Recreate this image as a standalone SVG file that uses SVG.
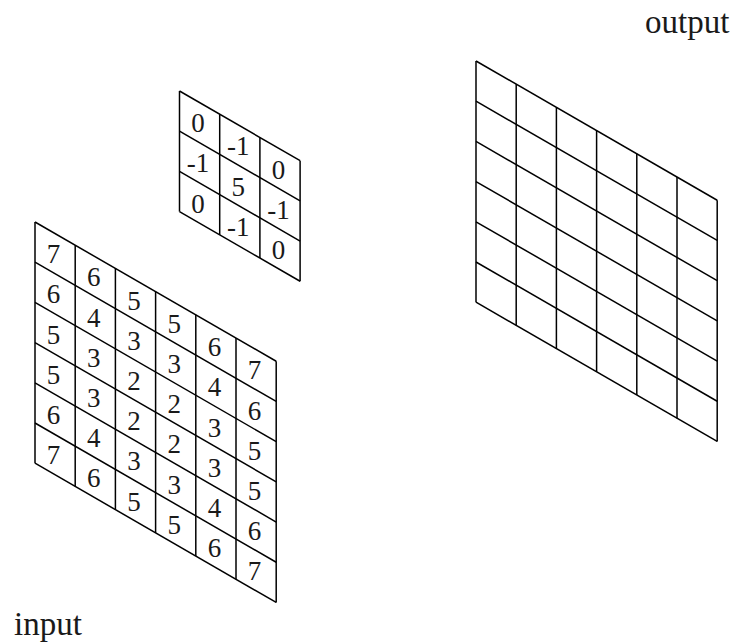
<svg xmlns="http://www.w3.org/2000/svg" width="738" height="643" viewBox="0 0 738 643">
<style>
.g line{stroke:#000;stroke-width:1.5;vector-effect:non-scaling-stroke;fill:none}
.n{font-family:"Liberation Serif","DejaVu Serif",serif;font-size:27px;fill:#1a1a1a;text-anchor:middle}
.lbl{font-family:"Liberation Serif","DejaVu Serif",serif;font-size:33px;fill:#1a1a1a}
</style>
<rect width="738" height="643" fill="#fff"/>
<g id="input">
<g class="g" transform="translate(35,222) skewY(30)">
<line x1="0" y1="0" x2="241.2" y2="0"/><line x1="0" y1="40.2" x2="241.2" y2="40.2"/><line x1="0" y1="80.4" x2="241.2" y2="80.4"/><line x1="0" y1="120.6" x2="241.2" y2="120.6"/><line x1="0" y1="160.8" x2="241.2" y2="160.8"/><line x1="0" y1="201" x2="241.2" y2="201"/><line x1="0" y1="241.2" x2="241.2" y2="241.2"/>
<line x1="0" y1="0" x2="0" y2="241.2"/><line x1="40.2" y1="0" x2="40.2" y2="241.2"/><line x1="80.4" y1="0" x2="80.4" y2="241.2"/><line x1="120.6" y1="0" x2="120.6" y2="241.2"/><line x1="160.8" y1="0" x2="160.8" y2="241.2"/><line x1="201" y1="0" x2="201" y2="241.2"/><line x1="241.2" y1="0" x2="241.2" y2="241.2"/>
</g>
<g class="n" transform="translate(-1.5,1.5)">
<text x="55.1" y="261.7">7</text><text x="55.1" y="301.9">6</text><text x="55.1" y="342.1">5</text><text x="55.1" y="382.3">5</text><text x="55.1" y="422.5">6</text><text x="55.1" y="462.7">7</text>
<text x="95.3" y="284.9">6</text><text x="95.3" y="325.1">4</text><text x="95.3" y="365.3">3</text><text x="95.3" y="405.5">3</text><text x="95.3" y="445.7">4</text><text x="95.3" y="485.9">6</text>
<text x="135.5" y="308.1">5</text><text x="135.5" y="348.3">3</text><text x="135.5" y="388.5">2</text><text x="135.5" y="428.7">2</text><text x="135.5" y="468.9">3</text><text x="135.5" y="509.1">5</text>
<text x="175.7" y="331.3">5</text><text x="175.7" y="371.5">3</text><text x="175.7" y="411.7">2</text><text x="175.7" y="451.9">2</text><text x="175.7" y="492.1">3</text><text x="175.7" y="532.3">5</text>
<text x="215.9" y="354.6">6</text><text x="215.9" y="394.8">4</text><text x="215.9" y="435">3</text><text x="215.9" y="475.2">3</text><text x="215.9" y="515.4">4</text><text x="215.9" y="555.6">6</text>
<text x="256.1" y="377.8">7</text><text x="256.1" y="418">6</text><text x="256.1" y="458.2">5</text><text x="256.1" y="498.4">5</text><text x="256.1" y="538.6">6</text><text x="256.1" y="578.8">7</text>
</g>
<text class="lbl" x="14" y="635">input</text>
</g>
<g id="kernel">
<g class="g" transform="translate(179.5,91) skewY(30)">
<line x1="0" y1="0" x2="120.6" y2="0"/><line x1="0" y1="40.2" x2="120.6" y2="40.2"/><line x1="0" y1="80.4" x2="120.6" y2="80.4"/><line x1="0" y1="120.6" x2="120.6" y2="120.6"/>
<line x1="0" y1="0" x2="0" y2="120.6"/><line x1="40.2" y1="0" x2="40.2" y2="120.6"/><line x1="80.4" y1="0" x2="80.4" y2="120.6"/><line x1="120.6" y1="0" x2="120.6" y2="120.6"/>
</g>
<g class="n" transform="translate(-1.5,1.5)">
<text x="199.6" y="130.7">0</text><text x="199.6" y="170.9">-1</text><text x="199.6" y="211.1">0</text>
<text x="239.8" y="153.9">-1</text><text x="239.8" y="194.1">5</text><text x="239.8" y="234.3">-1</text>
<text x="280" y="177.1">0</text><text x="280" y="217.3">-1</text><text x="280" y="257.5">0</text>
</g>
</g>
<g id="output">
<g class="g" transform="translate(476,61) skewY(30)">
<line x1="0" y1="0" x2="241.2" y2="0"/><line x1="0" y1="40.2" x2="241.2" y2="40.2"/><line x1="0" y1="80.4" x2="241.2" y2="80.4"/><line x1="0" y1="120.6" x2="241.2" y2="120.6"/><line x1="0" y1="160.8" x2="241.2" y2="160.8"/><line x1="0" y1="201" x2="241.2" y2="201"/><line x1="0" y1="241.2" x2="241.2" y2="241.2"/>
<line x1="0" y1="0" x2="0" y2="241.2"/><line x1="40.2" y1="0" x2="40.2" y2="241.2"/><line x1="80.4" y1="0" x2="80.4" y2="241.2"/><line x1="120.6" y1="0" x2="120.6" y2="241.2"/><line x1="160.8" y1="0" x2="160.8" y2="241.2"/><line x1="201" y1="0" x2="201" y2="241.2"/><line x1="241.2" y1="0" x2="241.2" y2="241.2"/>
</g>
<text class="lbl" x="645" y="33">output</text>
</g>
</svg>
